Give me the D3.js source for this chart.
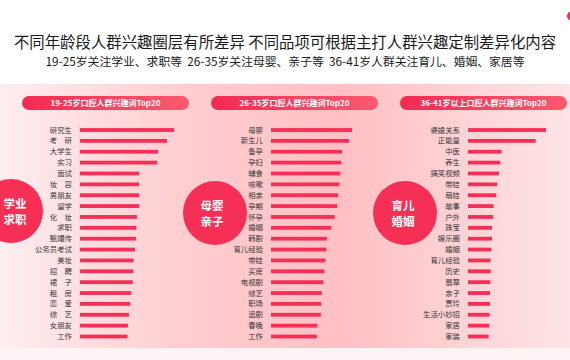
<!DOCTYPE html>
<html>
<head>
<meta charset="utf-8">
<script src="https://cdn.jsdelivr.net/npm/d3@7"></script>
<style>
  body { margin: 0; background: #fff; }
  svg { display: block; font-family: "Noto Sans CJK SC", "Noto Sans", sans-serif; }
</style>
</head>
<body>
<div id="chart"></div>
<script>
const title = '不同年龄段人群兴趣圈层有所差异 不同品项可根据主打人群兴趣定制差异化内容'
const subtitle = '19-25岁关注学业、求职等  26-35岁关注母婴、亲子等  36-41岁人群关注育儿、婚姻、家居等'

const panelTitles = ['19-25岁口腔人群兴趣词Top20', '26-35岁口腔人群兴趣词Top20', '36-41岁以上口腔人群兴趣词Top20']
const badges = [['学业', '求职'], ['母婴', '亲子'], ['育儿', '婚姻']]

const youngWords = ['研究生', '考　研', '大学生', '实习', '面试', '妆　容', '男朋友', '留学', '化　妆', '求职',
  '甄嬛传', '公务员考试', '美妆', '招　聘', '裙　子', '租　房', '恋　爱', '综　艺', '女朋友', '工作']
const youngValues = [100, 92.5, 83, 82, 63, 63, 63, 63, 60.5, 60, 59.5, 58.5, 57, 56.5, 56, 54.5, 53.5, 52, 51, 50.5]

const midWords = ['母婴', '新生儿', '备孕', '孕妇', '辅食', '咳嗽', '相亲', '孕期', '怀孕', '婚姻',
  '韩剧', '育儿经验', '带娃', '买房', '电视剧', '综艺', '职场', '追剧', '春晚', '工作']
const midValues = [100, 96.3, 87.7, 86.5, 85.6, 84.4, 82.8, 81.5, 78.7, 74.5, 68.9, 68.4, 67.2, 65.9, 64.7, 62.7, 61.9, 61.5, 57.3, 56.6]

const oldWords = ['婆媳关系', '正能量', '中医', '养生', '搞笑视频', '带娃', '萌娃', '故事', '户外', '珠宝',
  '娱乐圈', '婚姻', '育儿经验', '历史', '翡翠', '亲子', '贾玲', '生活小妙招', '家居', '家装']
const oldValues = [100, 86.7, 43.1, 41.4, 39.7, 37.2, 36.3, 32.8, 32.1, 30.8, 30.8, 29.9, 29, 29, 28.6, 28.2, 28.2, 27.7, 27.3, 26.4]

const panels = [
  { words: youngWords, values: youngValues, x0: 80, w: 94, hx: 22, circle: [11, 211, 32], tx: 15 },
  { words: midWords, values: midValues, x0: 271, w: 81, hx: 211, circle: [215, 213, 32], tx: 212 },
  { words: oldWords, values: oldValues, x0: 468, w: 78, hx: 400, circle: [405, 213, 32], tx: 403 }
]

const width = 570
const height = 360
const red = '#f52f55'

const svg = d3.select('#chart').append('svg')
  .attr('width', width)
  .attr('height', height)

const defs = svg.append('defs')
const bg = defs.append('linearGradient').attr('id', 'bg').attr('x1', 0).attr('x2', 1).attr('y1', 0).attr('y2', 0)
bg.append('stop').attr('offset', '0%').attr('stop-color', '#fdeef0')
bg.append('stop').attr('offset', '30%').attr('stop-color', '#ffcfd2')
bg.append('stop').attr('offset', '60%').attr('stop-color', '#ffc0c4')
bg.append('stop').attr('offset', '100%').attr('stop-color', '#fde4e6')

const pill = defs.append('linearGradient').attr('id', 'pill').attr('x1', 0).attr('x2', 1).attr('y1', 0).attr('y2', 0)
pill.append('stop').attr('offset', '0%').attr('stop-color', '#f42a52')
pill.append('stop').attr('offset', '100%').attr('stop-color', '#fb5a6e')

svg.append('rect')
  .attr('x', 0).attr('y', 84).attr('width', width).attr('height', 264)
  .attr('fill', 'url(#bg)')

svg.append('rect')
  .attr('x', 0).attr('y', 348).attr('width', width).attr('height', 12)
  .attr('fill', '#fdf3f4')

svg.append('circle').attr('cx', 572).attr('cy', 16).attr('r', 5).attr('fill', red)

svg.append('text')
  .attr('x', width / 2).attr('y', 48)
  .attr('text-anchor', 'middle')
  .attr('font-size', 15.4)
  .attr('fill', '#1a1a1a')
  .text(title)

svg.append('text')
  .attr('x', width / 2).attr('y', 66)
  .attr('text-anchor', 'middle')
  .attr('font-size', 11.8)
  .attr('fill', '#1a1a1a')
  .style('white-space', 'pre')
  .text(subtitle)

const y = d3.scalePoint()
  .domain(d3.range(20))
  .range([130, 336.5])

// badge circles go under the word lists
panels.forEach((p, k) => {
  const [cx, cy, r] = p.circle
  svg.append('circle')
    .attr('cx', cx).attr('cy', cy).attr('r', r)
    .attr('fill', red)
  badges[k].forEach((t, j) => {
    svg.append('text')
      .attr('x', p.tx).attr('y', cy - 7.5 + j * 16)
      .attr('dy', '0.35em')
      .attr('text-anchor', 'middle')
      .attr('font-size', 11.5)
      .attr('font-weight', 'bold')
      .attr('fill', '#fff')
      .text(t)
  })
})

panels.forEach((p, k) => {
  const g = svg.append('g')

  const x = d3.scaleLinear()
    .domain([0, 100])
    .range([p.x0, p.x0 + p.w])

  g.append('rect')
    .attr('x', p.hx).attr('y', 96)
    .attr('width', 167).attr('height', 14)
    .attr('rx', 7)
    .attr('fill', 'url(#pill)')

  g.append('text')
    .attr('x', p.hx + 83.5).attr('y', 103)
    .attr('dy', '0.35em')
    .attr('text-anchor', 'middle')
    .attr('font-size', 8)
    .attr('font-weight', 'bold')
    .attr('fill', '#fff')
    .text(panelTitles[k])

  g.append('line')
    .attr('x1', p.x0 - 1).attr('x2', p.x0 - 1)
    .attr('y1', 122).attr('y2', 343)
    .attr('stroke', '#e6d6d7')
    .attr('stroke-width', 0.6)

  g.selectAll('.bar')
    .data(p.values)
    .enter().append('rect')
    .attr('class', 'bar')
    .attr('x', x(0))
    .attr('y', (d, i) => y(i) - 1.9)
    .attr('width', d => x(d) - x(0))
    .attr('height', 3.8)
    .attr('fill', red)

  g.selectAll('.word')
    .data(p.words)
    .enter().append('text')
    .attr('class', 'word')
    .attr('x', p.x0 - 8)
    .attr('y', (d, i) => y(i))
    .attr('dy', '0.35em')
    .attr('text-anchor', 'end')
    .attr('font-size', 7.4)
    .attr('fill', '#333')
    .text(d => d)
})
</script>
</body>
</html>
